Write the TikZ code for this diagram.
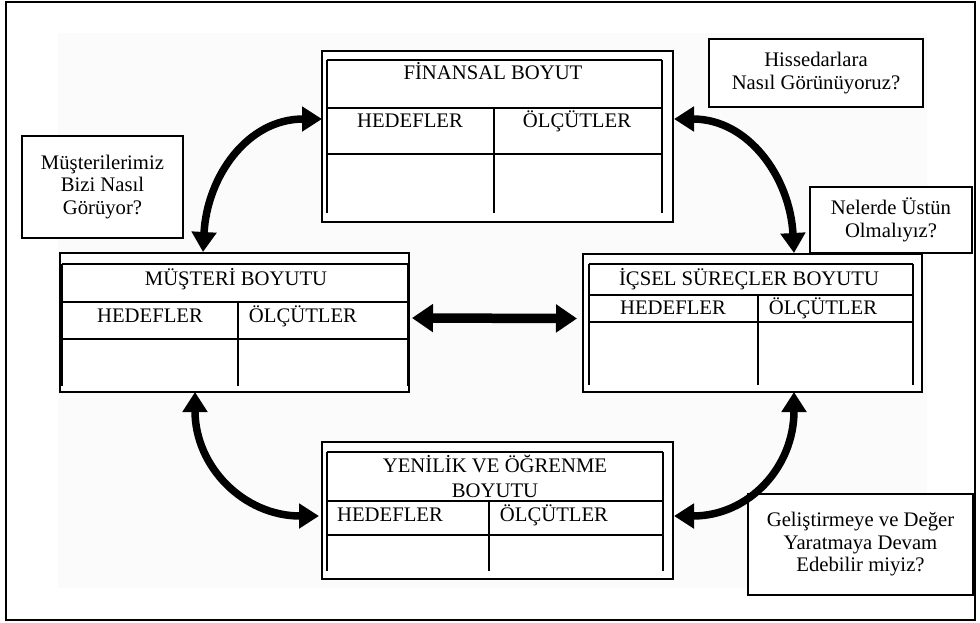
\documentclass[tikz,border=0pt]{standalone}
\usepackage{fontspec}
\setmainfont{Liberation Serif}
\usetikzlibrary{arrows.meta}
\begin{document}
\begin{tikzpicture}[x=1pt,y=-1pt,
  box/.style={draw,line width=1.4pt,inner sep=0pt,outer sep=0pt,fill=white},
  tbl/.style={line width=1.4pt},
  lbl/.style={anchor=base,inner sep=0pt,font=\fontsize{20.7}{23}\selectfont},
  qbox/.style={draw,line width=1.4pt,fill=white,align=center,inner sep=0pt,outer sep=0pt,font=\fontsize{20.7}{22.5}\selectfont},
  curv/.style={line width=7.5pt,{Triangle[length=20pt,width=24pt]}-{Triangle[length=20pt,width=24pt]}},
  straight/.style={line width=9.5pt,{Triangle[length=21pt,width=27pt]}-{Triangle[length=21pt,width=27pt]}}
]
\useasboundingbox (0,0) rectangle (980,622);
\fill[black!1.5] (58,33) rectangle (927,588);
\draw[line width=2pt] (6,2) rectangle (975,620);

% FINANSAL
\node[box,minimum width=351pt,minimum height=171pt] (fin) at (497.5,136.5) {};
\draw[tbl] (327,60) -- (662,60) (327,108) -- (662,108) (327,154) -- (662,154)
  (327,60) -- (327,213) (662,60) -- (662,213) (494,108) -- (494,213);
\node[lbl] (finT) at (493,79) {FİNANSAL BOYUT};
\node[lbl] (finH) at (410,127) {HEDEFLER};
\node[lbl] (finO) at (577,127) {ÖLÇÜTLER};

% MUSTERI
\node[box,minimum width=349pt,minimum height=139pt] (mus) at (234.5,322.5) {};
\draw[tbl] (62,264) -- (408,264) (62,302) -- (408,302) (62,339) -- (408,339)
  (62,264) -- (62,386) (408,264) -- (408,386) (238,302) -- (238,386);
\node[lbl] (musT) at (236,285) {MÜŞTERİ BOYUTU};
\node[lbl] (musH) at (150,322) {HEDEFLER};
\node[lbl] (musO) at (303,322) {ÖLÇÜTLER};

% ICSEL
\node[box,minimum width=339pt,minimum height=138pt] (ic) at (752.5,323) {};
\draw[tbl] (589,264) -- (913,264) (589,295) -- (913,295) (589,322) -- (913,322)
  (589,264) -- (589,385) (913,264) -- (913,385) (758,295) -- (758,385);
\node[lbl] (icT) at (749,285) {İÇSEL SÜREÇLER BOYUTU};
\node[lbl] (icH) at (673,314) {HEDEFLER};
\node[lbl] (icO) at (823,314) {ÖLÇÜTLER};

% YENILIK
\node[box,minimum width=351pt,minimum height=137pt] (yen) at (497.5,510.5) {};
\draw[tbl] (327,452) -- (663,452) (327,501) -- (663,501) (327,535) -- (663,535)
  (327,452) -- (327,571) (663,452) -- (663,571) (489,501) -- (489,571);
\node[lbl] (yenT1) at (495,472) {YENİLİK VE ÖĞRENME};
\node[lbl] (yenT2) at (495,497) {BOYUTU};
\node[lbl] (yenH) at (390,521) {HEDEFLER};
\node[lbl] (yenO) at (554,521) {ÖLÇÜTLER};

% question boxes
\node[qbox,minimum width=214pt,minimum height=68pt] (hiss) at (816,73) {Hissedarlara\\Nasıl Görünüyoruz?};
\node[qbox,minimum width=162pt,minimum height=66pt] (nel) at (891,220) {Nelerde Üstün\\Olmalıyız?};
\node[qbox,minimum width=161pt,minimum height=102pt] (mq) at (102.5,187) {Müşterilerimiz\\Bizi Nasıl\\Görüyor?};
\node[qbox,minimum width=225pt,minimum height=101pt] (gel) at (860.5,544.5) {Geliştirmeye ve Değer\\Yaratmaya Devam\\Edebilir miyiz?};

% arrows
\draw[curv] ([xshift=-31.5pt,yshift=1pt]mus.north) .. controls +(4,-75) and +(-75,0) .. ([yshift=17.5pt]fin.west);
\draw[curv] ([yshift=17.5pt,xshift=1pt]fin.east) .. controls +(75,0) and +(-4,-75) .. ([xshift=41.5pt,yshift=1pt]ic.north);
\draw[straight] ([yshift=4.5pt,xshift=3pt]mus.east) -- ([yshift=4.5pt,xshift=-6pt]ic.west);
\draw[curv] ([xshift=-39.5pt]mus.south) .. controls +(0,75) and +(-75,0) .. ([yshift=-5.5pt,xshift=-3pt]yen.west);
\draw[curv] ([xshift=41.5pt]ic.south) .. controls +(0,75) and +(75,0) .. ([yshift=-5.5pt,xshift=1pt]yen.east);
\end{tikzpicture}
\end{document}
